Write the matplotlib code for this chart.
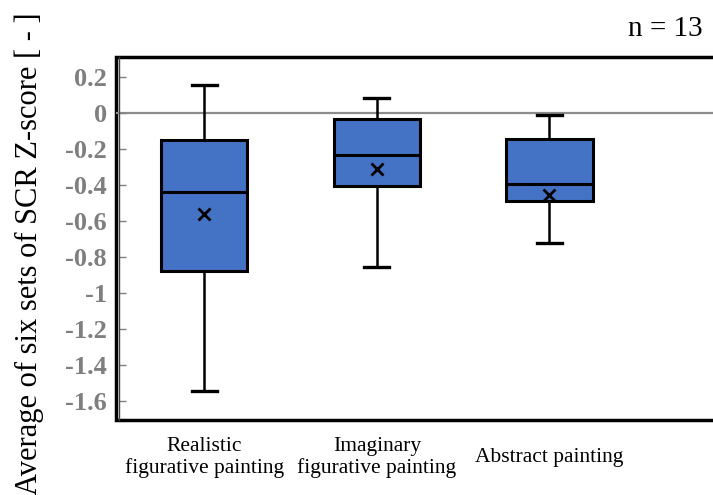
import numpy as np
import matplotlib
matplotlib.use('Agg')
import matplotlib.pyplot as plt

# Datos
categorias = ['Realistic\nfigurative painting',
              'Imaginary\nfigurative painting',
              'Abstract painting']
whis_hi = [0.155, 0.083, -0.011]
q3 = [-0.147, -0.032, -0.145]
medianas = [-0.437, -0.232, -0.394]
medias = [-0.561, -0.310, -0.457]
q1 = [-0.878, -0.405, -0.488]
whis_lo = [-1.546, -0.858, -0.720]
ticks_y = [-1.6, -1.4, -1.2, -1.0, -0.8, -0.6, -0.4, -0.2, 0.0, 0.2]
n_muestras = 13

plt.rcParams['font.family'] = ['Liberation Serif', 'DejaVu Serif']

fig = plt.figure(figsize=(7.13, 4.95), dpi=100)
ax = fig.add_axes([116 / 713, 75 / 495, 614 / 713, 363 / 495])

stats = []
for i in range(len(categorias)):
    stats.append({
        'whislo': whis_lo[i], 'q1': q1[i], 'med': medianas[i],
        'q3': q3[i], 'whishi': whis_hi[i], 'mean': medias[i], 'fliers': [],
    })

# Linea del cero
ax.axhline(0, color='#8c8c8c', linewidth=1.6, zorder=1)

ax.bxp(
    stats,
    positions=np.arange(1, len(categorias) + 1),
    widths=0.5,
    capwidths=0.145,
    showmeans=True,
    patch_artist=True,
    boxprops=dict(facecolor='#4472C4', edgecolor='black', linewidth=2.2),
    medianprops=dict(color='black', linewidth=2.2),
    whiskerprops=dict(color='black', linewidth=1.8),
    capprops=dict(color='black', linewidth=2.4),
    meanprops=dict(marker='x', markeredgecolor='black', markersize=8,
                   markeredgewidth=2),
    zorder=3,
)

ax.set_xlim(0.49, 0.49 + 614 / 172.7)
ax.set_ylim(-1.708, 0.3135)
ax.set_yticks(ticks_y)
ax.set_yticklabels(['{:g}'.format(v) for v in ticks_y])
ax.set_xticks(np.arange(1, len(categorias) + 1))
ax.set_xticklabels(categorias, fontsize=15.5, linespacing=1.08, va='center')

# Marco exterior + eje izquierdo interior
ax.patch.set_edgecolor('black')
ax.patch.set_linewidth(2.5)
for s in ['top', 'right', 'bottom']:
    ax.spines[s].set_visible(False)
ax.spines['left'].set_position(('outward', -2.4))
ax.spines['left'].set_linewidth(1.0)
ax.spines['left'].set_color('#404040')

ax.tick_params(axis='y', direction='in', length=5, color='#808080', width=1,
               pad=9, labelsize=19, labelcolor='#7f7f7f')
for t in ax.get_yticklabels():
    t.set_fontweight('bold')
ax.tick_params(axis='x', length=0, pad=27)

fig.text(29 / 713, 1 - 254 / 495, 'Average of six sets of SCR Z-score [ - ]',
         rotation=90, ha='center', va='center', fontsize=22)
fig.text(703 / 713, 1 - 36 / 495, 'n = {}'.format(n_muestras),
         ha='right', va='baseline', fontsize=21)

plt.savefig('out.png', dpi=100)
